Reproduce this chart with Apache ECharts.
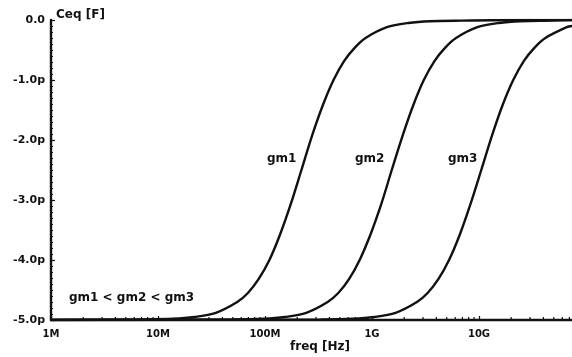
<!DOCTYPE html>
<html>
<head>
<meta charset="utf-8">
<script src="https://cdn.jsdelivr.net/npm/echarts@6/dist/echarts.min.js"></script>
<style>
html,body{margin:0;padding:0;background:#fff;}
#chart{width:572px;height:357px;}
</style>
</head>
<body>
<div id="chart"></div>
<script>
// ---- data (frequency in Hz, capacitance in pF) ----
const gm1Freq = [1e6, 6.92e6, 1.38e7, 2.19e7, 3.47e7, 5.50e7, 6.92e7, 8.71e7, 1.10e8, 1.38e8, 1.74e8, 2.19e8, 2.75e8, 3.47e8, 4.37e8, 5.50e8, 6.92e8, 8.71e8, 1.38e9, 2.19e9, 3.47e9, 6.92e9, 2.19e10, 7.4e10];
const gm1Ceq  = [-5.00, -4.99, -4.98, -4.95, -4.88, -4.70, -4.55, -4.32, -4.00, -3.58, -3.07, -2.50, -1.93, -1.42, -1.00, -0.68, -0.46, -0.30, -0.12, -0.05, -0.02, -0.01, 0.00, 0.00];

const gm2Freq = [1e6, 4.84e7, 9.66e7, 1.53e8, 2.43e8, 3.85e8, 4.84e8, 6.10e8, 7.67e8, 9.66e8, 1.22e9, 1.53e9, 1.93e9, 2.43e9, 3.05e9, 3.85e9, 4.84e9, 6.10e9, 9.66e9, 1.53e10, 2.43e10, 4.84e10, 7.4e10];
const gm2Ceq  = [-5.00, -4.99, -4.98, -4.95, -4.88, -4.70, -4.55, -4.32, -4.00, -3.58, -3.07, -2.50, -1.93, -1.42, -1.00, -0.68, -0.46, -0.30, -0.12, -0.05, -0.02, -0.01, 0.00];

const gm3Freq = [1e6, 3.31e8, 6.61e8, 1.05e9, 1.66e9, 2.63e9, 3.31e9, 4.17e9, 5.25e9, 6.61e9, 8.32e9, 1.05e10, 1.32e10, 1.66e10, 2.09e10, 2.63e10, 3.31e10, 4.17e10, 6.61e10, 7.4e10];
const gm3Ceq  = [-5.00, -4.99, -4.98, -4.95, -4.88, -4.70, -4.55, -4.32, -4.00, -3.58, -3.07, -2.50, -1.93, -1.42, -1.00, -0.68, -0.46, -0.30, -0.12, -0.10];

const seriesNames = ['gm1', 'gm2', 'gm3'];

const xTickValues = [1e6, 1e7, 1e8, 1e9, 1e10];
const xTickLabels = ['1M', '10M', '100M', '1G', '10G'];
const yTickValues = [-5, -4, -3, -2, -1, 0];
const yTickLabels = ['-5.0p', '-4.0p', '-3.0p', '-2.0p', '-1.0p', '0.0'];

// minor (log) tick positions on the frequency axis
const xMinorTicks = [];
[1e6, 1e7, 1e8, 1e9, 1e10].forEach(d => { for (let k = 2; k <= 9; k++) if (d * k <= 7.4e10) xMinorTicks.push(d * k); });

// ---- chart ----
const FONT = 'DejaVu Sans';
const INK = '#111';

function pairs(xs, ys) { return xs.map((x, i) => [x, ys[i]]); }
function lookup(vals, labels, v) {
  for (let i = 0; i < vals.length; i++) if (Math.abs(v - vals[i]) <= Math.abs(vals[i]) * 1e-6 + 1e-9) return labels[i];
  return '';
}

const lineStyle = { color: INK, width: 2.4 };
const mk = (name, xs, ys) => ({
  name, type: 'line', data: pairs(xs, ys), smooth: 0.3,
  showSymbol: false, symbol: 'none', lineStyle, z: 5, animation: false
});

const chart = echarts.init(document.getElementById('chart'), null, { renderer: 'canvas' });
chart.setOption({
  backgroundColor: '#fff',
  animation: false,
  grid: { left: 51, right: 0, top: 20, bottom: 37, containLabel: false },
  xAxis: {
    type: 'log', logBase: 10, min: 1e6, max: 7.4e10,
    splitLine: { show: false },
    axisLine: { onZero: false, lineStyle: { color: INK, width: 2.4 } },
    axisTick: { show: true, inside: true, length: 4, lineStyle: { color: INK, width: 1.2 } },
    axisLabel: {
      color: INK, fontFamily: FONT, fontWeight: 'bold', fontSize: 10, margin: 9,
      showMaxLabel: false,
      formatter: v => lookup(xTickValues, xTickLabels, v)
    }
  },
  yAxis: {
    type: 'value', min: -5, max: 0, interval: 1,
    splitLine: { show: false },
    axisLine: { show: true, onZero: false, lineStyle: { color: INK, width: 2.4 } },
    axisTick: { show: true, inside: true, length: 4, lineStyle: { color: INK, width: 1.2 } },
    minorTick: { show: true, splitNumber: 10, length: 2, lineStyle: { color: INK, width: 1 } },
    axisLabel: {
      color: INK, fontFamily: FONT, fontWeight: 'bold', fontSize: 11, margin: 6,
      formatter: v => lookup(yTickValues, yTickLabels, v)
    }
  },
  series: [
    mk(seriesNames[0], gm1Freq, gm1Ceq),
    mk(seriesNames[1], gm2Freq, gm2Ceq),
    mk(seriesNames[2], gm3Freq, gm3Ceq),
    {
      type: 'custom', silent: true, z: 3, animation: false,
      data: xMinorTicks.map(f => [f, -5]),
      renderItem: (params, api) => {
        const p = api.coord([api.value(0), api.value(1)]);
        return { type: 'line', shape: { x1: p[0], y1: p[1], x2: p[0], y2: p[1] - 3 }, style: { stroke: INK, lineWidth: 1.2 } };
      }
    }
  ],
  graphic: [
    { type: 'text', left: 56, top: 9, style: { text: 'Ceq [F]', fill: INK, font: 'bold 12px "DejaVu Sans"' } },
    { type: 'text', left: 290, top: 341, style: { text: 'freq [Hz]', fill: INK, font: 'bold 12px "DejaVu Sans"' } },
    { type: 'text', left: 267, top: 153, style: { text: seriesNames[0], fill: INK, font: 'bold 12px "DejaVu Sans"' } },
    { type: 'text', left: 355, top: 153, style: { text: seriesNames[1], fill: INK, font: 'bold 12px "DejaVu Sans"' } },
    { type: 'text', left: 448, top: 153, style: { text: seriesNames[2], fill: INK, font: 'bold 12px "DejaVu Sans"' } },
    { type: 'text', left: 69, top: 292, style: { text: 'gm1 < gm2 < gm3', fill: INK, font: 'bold 12px "DejaVu Sans"' } }
  ]
});
</script>
</body>
</html>
